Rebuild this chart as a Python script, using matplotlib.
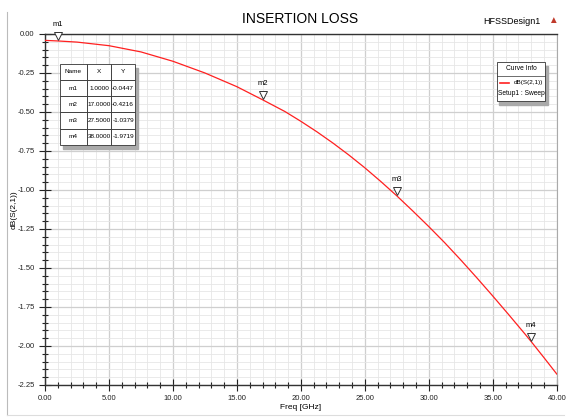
import matplotlib
matplotlib.use('Agg')
import matplotlib.pyplot as plt
import matplotlib.transforms as mtransforms
from matplotlib.ticker import MultipleLocator, FormatStrFormatter
from matplotlib.lines import Line2D
from matplotlib.patches import Rectangle

plt.rcParams['font.family'] = ['Liberation Sans', 'DejaVu Sans']

# curve samples
freq = [0.0, 1.0, 2.5, 5.0, 7.5, 10.0, 12.5, 15.0, 17.0, 18.75, 20.0, 21.25, 22.5, 23.75,
        25.0, 26.25, 27.5, 28.75, 30.0, 31.25, 32.5, 33.75, 35.0, 36.25, 37.5, 38.0, 39.0, 40.0]
s21 = [-0.041, -0.0447, -0.052, -0.075, -0.115, -0.175, -0.250, -0.338, -0.4216, -0.497, -0.560, -0.627, -0.699, -0.776,
       -0.858, -0.946, -1.0379, -1.135, -1.235, -1.339, -1.449, -1.563, -1.680, -1.800, -1.922, -1.9719, -2.075, -2.180]

# markers
m_names = ['m1', 'm2', 'm3', 'm4']
m_x = [1.0, 17.0, 27.5, 38.0]
m_y = [-0.0447, -0.4216, -1.0379, -1.9719]

fig = plt.figure(figsize=(5.67, 4.18), dpi=100)
ax = fig.add_axes([0.0794, 0.079, 0.9026, 0.8397])

ax.plot(freq, s21, color='#ff2020', lw=0.9, zorder=3)

# open triangle markers sitting on the curve
trans = mtransforms.offset_copy(ax.transData, fig=fig, x=0, y=3.5, units='points')
for name, x, y in zip(m_names, m_x, m_y):
    ax.plot(x, y, marker='v', ms=6, mfc='white', mec='#333333', mew=0.7, transform=trans, zorder=4, clip_on=False)
    ax.annotate(name, (x, y), xytext=(0, 9), textcoords='offset points', ha='center', va='bottom',
                fontsize=5.5, zorder=5, annotation_clip=False)

ax.set_xlim(0, 40)
ax.set_ylim(-2.25, 0)
ax.xaxis.set_major_locator(MultipleLocator(5))
ax.xaxis.set_minor_locator(MultipleLocator(1))
ax.yaxis.set_major_locator(MultipleLocator(0.25))
ax.yaxis.set_minor_locator(MultipleLocator(0.05))
ax.xaxis.set_major_formatter(FormatStrFormatter('%.2f'))
ax.yaxis.set_major_formatter(FormatStrFormatter('%.2f'))
ax.tick_params(which='major', direction='inout', length=8, width=0.8, labelsize=5.5, colors='#222222')
ax.tick_params(which='minor', direction='inout', length=4, width=0.8, colors='#222222')
ax.grid(which='major', color='#cfcfcf', lw=0.9)
ax.grid(which='minor', color='#e6e6e6', lw=0.6)
ax.set_axisbelow(True)

for side in ['left', 'bottom', 'top']:
    ax.spines[side].set_color('#333333')
    ax.spines[side].set_linewidth(1.0)
ax.spines['right'].set_color('#aaaaaa')

ax.set_xlabel('Freq [GHz]', fontsize=6, labelpad=1)
ax.set_ylabel('dB(S(2,1))', fontsize=6)
ax.yaxis.set_label_coords(-0.054, 0.5)

fig.text(0.53, 0.955, 'INSERTION LOSS', ha='center', va='center', fontsize=10)
fig.text(0.953, 0.948, 'HFSSDesign1', ha='right', va='center', fontsize=6.5)
fig.text(0.975, 0.952, '\u25b2', ha='center', va='center', fontsize=7, color='#c0392b')

# light frame around the plot window
fig.add_artist(Line2D([0.012, 0.012], [0.007, 0.972], color='#bbbbbb', lw=0.8))
fig.add_artist(Line2D([0.012, 0.995], [0.007, 0.007], color='#dddddd', lw=0.8))

# marker table
cell_text = [[n, '%.4f' % x, '%.4f' % y] for n, x, y in zip(m_names, m_x, m_y)]
tb_box = [0.029, 0.684, 0.147, 0.231]
ax.add_patch(Rectangle((tb_box[0] + 0.006, tb_box[1] - 0.012), tb_box[2], tb_box[3],
                       transform=ax.transAxes, color='#aaaaaa', zorder=5))
tbl = ax.table(cellText=cell_text, colLabels=['Name', 'X', 'Y'], cellLoc='center',
               bbox=tb_box, colWidths=[0.36, 0.32, 0.32], zorder=6)
tbl.auto_set_font_size(False)
tbl.set_fontsize(4.6)
for cell in tbl.get_celld().values():
    cell.set_linewidth(0.6)
    cell.set_edgecolor('#333333')
    cell.set_facecolor('white')
    cell.PAD = 0.02

# curve info box
ci = [0.883, 0.809, 0.094, 0.111]
ax.add_patch(Rectangle((ci[0] + 0.005, ci[1] - 0.012), ci[2], ci[3], transform=ax.transAxes,
                       color='#aaaaaa', zorder=5))
ax.add_patch(Rectangle((ci[0], ci[1]), ci[2], ci[3], transform=ax.transAxes,
                       fc='white', ec='#333333', lw=0.6, zorder=6))
ax.add_line(Line2D([ci[0], ci[0] + ci[2]], [ci[1] + 0.072, ci[1] + 0.072], transform=ax.transAxes,
                   color='#333333', lw=0.5, zorder=7))
ax.text(ci[0] + ci[2] / 2, ci[1] + 0.092, 'Curve Info', transform=ax.transAxes, ha='center', va='center',
        fontsize=4.8, zorder=7)
ax.add_line(Line2D([ci[0] + 0.006, ci[0] + 0.024], [ci[1] + 0.052, ci[1] + 0.052], transform=ax.transAxes,
                   color='#ff2020', lw=1.2, zorder=7))
ax.text(ci[0] + ci[2] - 0.004, ci[1] + 0.052, 'dB(S(2,1))', transform=ax.transAxes, ha='right', va='center',
        fontsize=4.6, zorder=7)
ax.text(ci[0] + ci[2] / 2, ci[1] + 0.022, 'Setup1 : Sweep', transform=ax.transAxes, ha='center', va='center',
        fontsize=4.8, zorder=7)

fig.savefig('out.png', dpi=100)
